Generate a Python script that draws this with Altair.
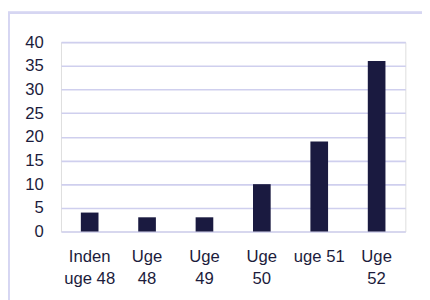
import altair as alt
import pandas as pd

categories = ["Inden\nuge 48", "Uge\n48", "Uge\n49", "Uge\n50", "uge 51", "Uge\n52"]
values = [4, 3, 3, 10, 19, 36]
y_ticks = [0, 5, 10, 15, 20, 25, 30, 35, 40]

df = pd.DataFrame({"cat": categories, "val": values})

TEXT = "#1c1c3c"
GRID = "#cfcfee"
BAR = "#1a1a40"
FONT = "Liberation Sans"

bars = alt.Chart(df).mark_bar(size=18, color=BAR).encode(
    x=alt.X("cat:N", sort=categories,
            scale=alt.Scale(paddingInner=0, paddingOuter=0),
            axis=alt.Axis(title=None, labelAngle=0, ticks=False, domain=False,
                          labelExpr="split(datum.value, '\\n')",
                          labelFontSize=17, labelColor=TEXT, labelFont=FONT,
                          labelPadding=18, labelLineHeight=22, labelBaseline="top")),
    y=alt.Y("val:Q", scale=alt.Scale(domain=[0, 40], nice=False),
            axis=alt.Axis(title=None, values=y_ticks, ticks=False, domain=False,
                          grid=True, gridColor=GRID, gridWidth=1.6,
                          labelFontSize=17, labelColor=TEXT, labelFont=FONT,
                          labelPadding=18)),
)

border = alt.Chart(df).mark_rect(fill=None, stroke="#d6d6f2", strokeWidth=2).encode(
    x=alt.value(-53.5), x2=alt.value(420), y=alt.value(-30), y2=alt.value(320)
)

chart = alt.layer(border, bars).properties(
    width=351, height=193,
    autosize=alt.AutoSizeParams(type="none"),
    padding={"left": 54, "top": 32, "right": 17, "bottom": 67},
).configure_view(stroke=None).configure(background="white")

chart.save("out.html", embed_options={"renderer": "svg", "actions": False})
